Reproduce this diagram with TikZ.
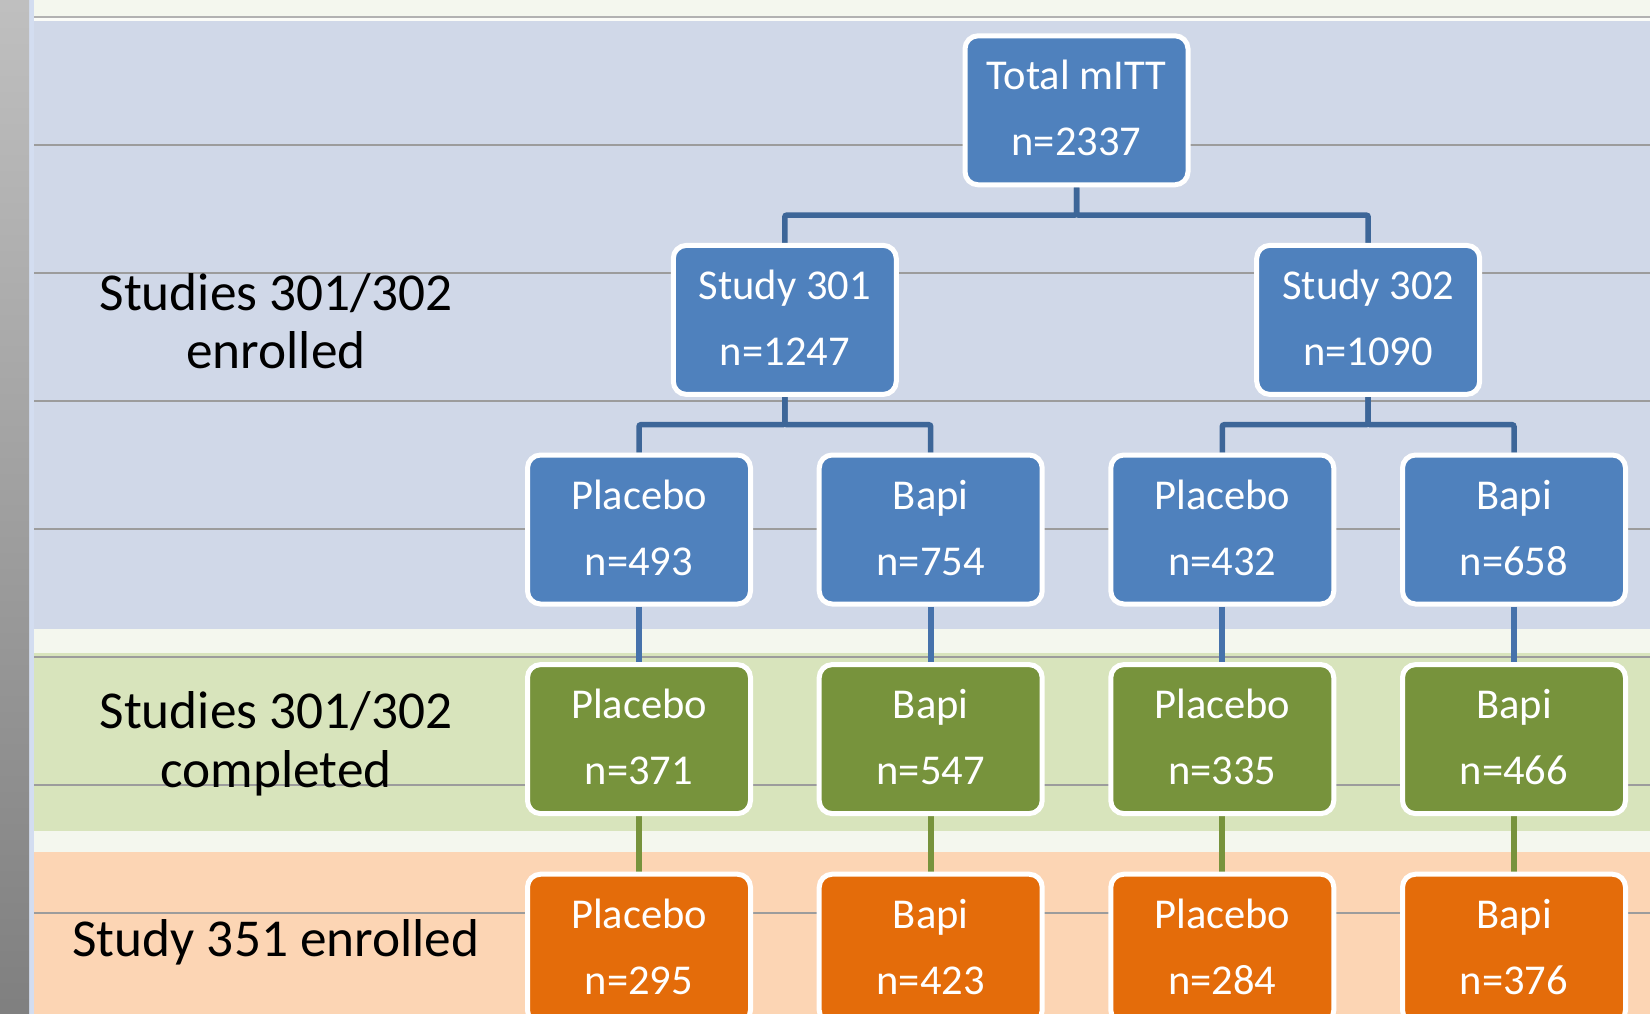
\documentclass[tikz,border=0pt]{standalone}
\usepackage{fontspec}
\setmainfont{Carlito}
\usetikzlibrary{calc}
\pgfdeclarelayer{back}
\pgfdeclarelayer{links}
\pgfsetlayers{back,links,main}

\definecolor{bandblue}{HTML}{D0D8E8}
\definecolor{bandgreen}{HTML}{D8E4BC}
\definecolor{bandorange}{HTML}{FCD5B4}
\definecolor{cream}{HTML}{F4F7EE}
\definecolor{edgeblue}{HTML}{D3DDF0}
\definecolor{boxblue}{HTML}{4F81BD}
\definecolor{boxgreen}{HTML}{77933C}
\definecolor{boxorange}{HTML}{E46C0A}
\definecolor{treeline}{HTML}{3D6698}
\definecolor{linkblue}{HTML}{4672AB}
\definecolor{gridgray}{HTML}{9C9C9C}

% two centred lines with fixed strut height/depth so every box sets them alike
\newcommand{\twolines}[2]{\rule{0pt}{30pt}#1\\#2\rule[-5pt]{0pt}{5pt}}

\begin{document}
\begin{tikzpicture}[x=1pt,y=-1pt,
  cell/.style={draw=white, line width=5pt, rounded corners=13pt,
    minimum width=223pt, minimum height=149pt, inner sep=0pt,
    text=white, align=center, font=\fontsize{42.5}{66}\selectfont},
  bluecell/.style={cell, fill=boxblue},
  greencell/.style={cell, fill=boxgreen},
  orangecell/.style={cell, fill=boxorange},
  tree/.style={draw=treeline, line width=5.5pt, rounded corners=2pt},
  bluelink/.style={draw=linkblue, line width=6pt},
  greenlink/.style={draw=boxgreen, line width=6pt},
  side/.style={align=center, inner sep=0pt, text=black,
    font=\fontsize{53.3}{58.5}\selectfont}]

\clip (0,0) rectangle (1650,1014);

% background bands and grid
\begin{pgfonlayer}{back}
  \fill[cream] (0,0) rectangle (1650,1014);
  \fill[white!60!cream] (34,18) rectangle (1650,21);
  \fill[bandblue] (34,21) rectangle (1650,629);
  \fill[bandgreen] (34,653) rectangle (1650,831);
  \fill[bandorange] (34,852) rectangle (1650,1014);
  \fill[edgeblue] (29,0) rectangle (34,1014);
  \shade[top color=black!25, bottom color=black!50] (0,0) rectangle (29,1014);
  \draw[black!30, line width=1.5pt] (34,17.2) -- (1650,17.2);
  \foreach \gy in {145,273,401,529,657,785,913}
    \draw[gridgray, line width=1.1pt] (34,\gy) -- (1650,\gy);
\end{pgfonlayer}

% boxes
\node[bluecell] (tot) at (1076.5,110.3) {\twolines{Total mITT}{n=2337}};
\node[bluecell] (s1) at (784.8,319.9) {\twolines{Study 301}{n=1247}};
\node[bluecell] (s2) at (1368.2,319.9) {\twolines{Study 302}{n=1090}};

\node[bluecell] (e1) at (639,529.5) {\twolines{Placebo}{n=493}};
\node[bluecell] (e2) at (930.7,529.5) {\twolines{Bapi}{n=754}};
\node[bluecell] (e3) at (1222.3,529.5) {\twolines{Placebo}{n=432}};
\node[bluecell] (e4) at (1514,529.5) {\twolines{Bapi}{n=658}};

\node[greencell] (c1) at (639,739.1) {\twolines{Placebo}{n=371}};
\node[greencell] (c2) at (930.7,739.1) {\twolines{Bapi}{n=547}};
\node[greencell] (c3) at (1222.3,739.1) {\twolines{Placebo}{n=335}};
\node[greencell] (c4) at (1514,739.1) {\twolines{Bapi}{n=466}};

\node[orangecell] (o1) at (639,948.7) {\twolines{Placebo}{n=295}};
\node[orangecell] (o2) at (930.7,948.7) {\twolines{Bapi}{n=423}};
\node[orangecell] (o3) at (1222.3,948.7) {\twolines{Placebo}{n=284}};
\node[orangecell] (o4) at (1514,948.7) {\twolines{Bapi}{n=376}};

% row labels (base anchor sits on the last line)
\node[side, anchor=base] (lab1) at (276,368.5) {Studies 301/302\\enrolled};
\node[side, anchor=base] (lab2) at (276,787) {Studies 301/302\\completed};
\node[side, anchor=base] (lab3) at (276,956) {Study 351 enrolled};

% connectors
\begin{pgfonlayer}{links}
  \foreach \p/\c in {tot/s1, tot/s2, s1/e1, s1/e2, s2/e3, s2/e4}
    \draw[tree] (\p.south) |- ($(\p.south)!.5!(\c.north)$) -| (\c.north);
  \foreach \i in {1,2,3,4} {
    \draw[bluelink] (e\i.south) -- (c\i.north);
    \draw[greenlink] (c\i.south) -- (o\i.north);
  }
\end{pgfonlayer}
\end{tikzpicture}
\end{document}
